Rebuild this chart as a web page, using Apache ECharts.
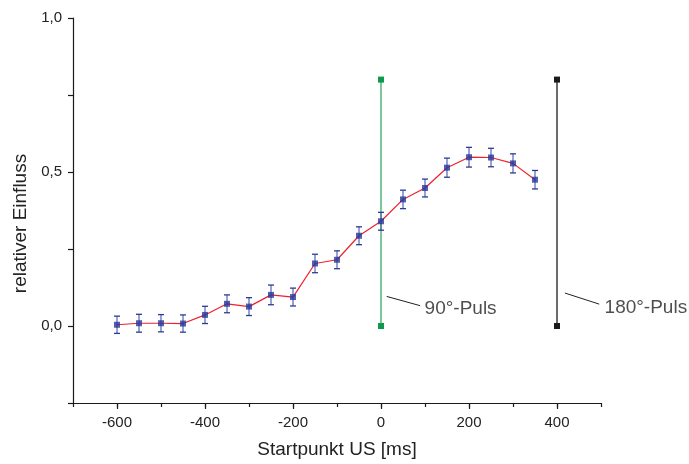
<!DOCTYPE html>
<html>
<head>
<meta charset="utf-8">
<script src="https://cdn.jsdelivr.net/npm/echarts@6/dist/echarts.min.js"></script>
<style>
  html, body { margin: 0; padding: 0; background: #fff; }
  #chart { width: 689px; height: 464px; }
</style>
</head>
<body>
<div id="chart"></div>
<script>
// Start time of the US (ms) and the measured relative influence
const startTimes = [-600, -550, -500, -450, -400, -350, -300, -250, -200, -150, -100, -50, 0, 50, 100, 150, 200, 250, 300, 350];
const influence  = [0.004, 0.009, 0.009, 0.008, 0.036, 0.072, 0.063, 0.101, 0.094, 0.203, 0.215, 0.293, 0.340, 0.411, 0.448, 0.514, 0.548, 0.547, 0.528, 0.475];
const errors     = [0.028, 0.029, 0.028, 0.028, 0.028, 0.029, 0.029, 0.032, 0.029, 0.030, 0.029, 0.029, 0.029, 0.030, 0.029, 0.031, 0.032, 0.030, 0.031, 0.030];

// Pulse markers: vertical bars at the pulse onsets
const pulse90  = [[0, 0], [0, 0.8]];
const pulse180 = [[400, 0], [400, 0.8]];

// Annotation leader lines and text anchors
const leader90  = [[13, 0.096], [89, 0.066]];
const leader180 = [[418, 0.107], [496, 0.071]];
const pulseLabels = [[90, 0.055, '90°-Puls'], [499, 0.058, '180°-Puls']];

const xTickLabels = [-600, -400, -200, 0, 200, 400];
const yTickLabels = [0, 0.5, 1.0];

const FONT = 'Liberation Sans, Arial, sans-serif';
const mainData = startTimes.map((t, i) => [t, influence[i]]);
const errData = startTimes.map((t, i) => [t, influence[i] - errors[i], influence[i] + errors[i]]);

const chart = echarts.init(document.getElementById('chart'), null, { renderer: 'canvas' });

const axisColor = '#1a1a1a';

chart.setOption({
  animation: false,
  backgroundColor: '#ffffff',
  grid: { left: 73, right: 88, top: 18, bottom: 59, containLabel: false },
  xAxis: [{
    type: 'value', min: -700, max: 500, interval: 100,
    name: 'Startpunkt US [ms]', nameLocation: 'middle', nameGap: 37,
    nameTextStyle: { fontFamily: FONT, fontSize: 19, color: '#222' },
    axisLine: { show: true, onZero: false, lineStyle: { color: axisColor, width: 1.2 } },
    axisTick: { show: true, inside: false, length: 4, lineStyle: { color: axisColor, width: 1.2 } },
    axisLabel: {
      fontFamily: FONT, fontSize: 15, color: '#222', margin: 12,
      formatter: v => xTickLabels.indexOf(v) >= 0 ? String(v) : ''
    },
    splitLine: { show: false }
  }, {
    // longer ticks at the labelled positions
    type: 'value', min: -700, max: 500, position: 'bottom',
    axisLine: { show: false, onZero: false },
    axisTick: { show: true, length: 6, customValues: xTickLabels, lineStyle: { color: axisColor, width: 1.2 } },
    axisLabel: { show: false },
    splitLine: { show: false }
  }],
  yAxis: [{
    type: 'value', min: -0.25, max: 1.0, interval: 0.25,
    name: 'relativer Einfluss', nameLocation: 'middle', nameGap: 43,
    nameTextStyle: { fontFamily: FONT, fontSize: 19, color: '#222', padding: [0, 26, 0, 0] },
    axisLine: { show: true, onZero: false, lineStyle: { color: axisColor, width: 1.2 } },
    axisTick: { show: true, length: 5, lineStyle: { color: axisColor, width: 1.2 } },
    axisLabel: {
      fontFamily: FONT, fontSize: 15, color: '#222', margin: 11,
      formatter: v => {
        const hit = yTickLabels.find(t => Math.abs(t - v) < 1e-9);
        return hit === undefined ? '' : hit.toFixed(1).replace('.', ',');
      }
    },
    splitLine: { show: false }
  }],
  series: [
    {
      type: 'line', data: pulse90, xAxisIndex: 0,
      symbol: 'rect', symbolSize: 6, showSymbol: true,
      lineStyle: { color: '#7cc89a', width: 2 },
      itemStyle: { color: '#0e9a4c' },
      z: 2
    },
    {
      type: 'line', data: pulse180, xAxisIndex: 0,
      symbol: 'rect', symbolSize: 6, showSymbol: true,
      lineStyle: { color: '#3a3a3a', width: 1.5 },
      itemStyle: { color: '#1a1a1a' },
      z: 2
    },
    {
      type: 'line', data: mainData, xAxisIndex: 0,
      symbol: 'none',
      lineStyle: { color: '#ee2030', width: 1.2 },
      z: 3
    },
    {
      type: 'custom', xAxisIndex: 0,
      data: errData,
      renderItem: (params, api) => {
        const x = api.value(0);
        const lo = api.coord([x, api.value(1)]);
        const hi = api.coord([x, api.value(2)]);
        const cap = 3;
        const bar = { stroke: '#5563b4', lineWidth: 1.5, opacity: 0.8 };
        const capStyle = { stroke: '#2c3a96', lineWidth: 1.3 };
        return {
          type: 'group',
          children: [
            { type: 'line', shape: { x1: lo[0], y1: lo[1], x2: hi[0], y2: hi[1] }, style: bar },
            { type: 'line', shape: { x1: lo[0] - cap, y1: lo[1], x2: lo[0] + cap, y2: lo[1] }, style: capStyle },
            { type: 'line', shape: { x1: hi[0] - cap, y1: hi[1], x2: hi[0] + cap, y2: hi[1] }, style: capStyle }
          ]
        };
      },
      z: 4
    },
    {
      type: 'scatter', data: mainData, xAxisIndex: 0,
      symbol: 'rect', symbolSize: 6,
      itemStyle: { color: '#27379a' },
      z: 5
    },
    {
      type: 'line', data: leader90, xAxisIndex: 0, symbol: 'none',
      lineStyle: { color: '#222', width: 1 }, clip: false, z: 3
    },
    {
      type: 'line', data: leader180, xAxisIndex: 0, symbol: 'none',
      lineStyle: { color: '#222', width: 1 }, clip: false, z: 3
    },
    {
      type: 'scatter', data: pulseLabels, xAxisIndex: 0,
      symbolSize: 0, clip: false,
      label: {
        show: true, position: 'right', distance: 4,
        formatter: p => p.value[2],
        fontFamily: FONT, fontSize: 19, color: '#222'
      },
      z: 6
    }
  ]
});
</script>
</body>
</html>
